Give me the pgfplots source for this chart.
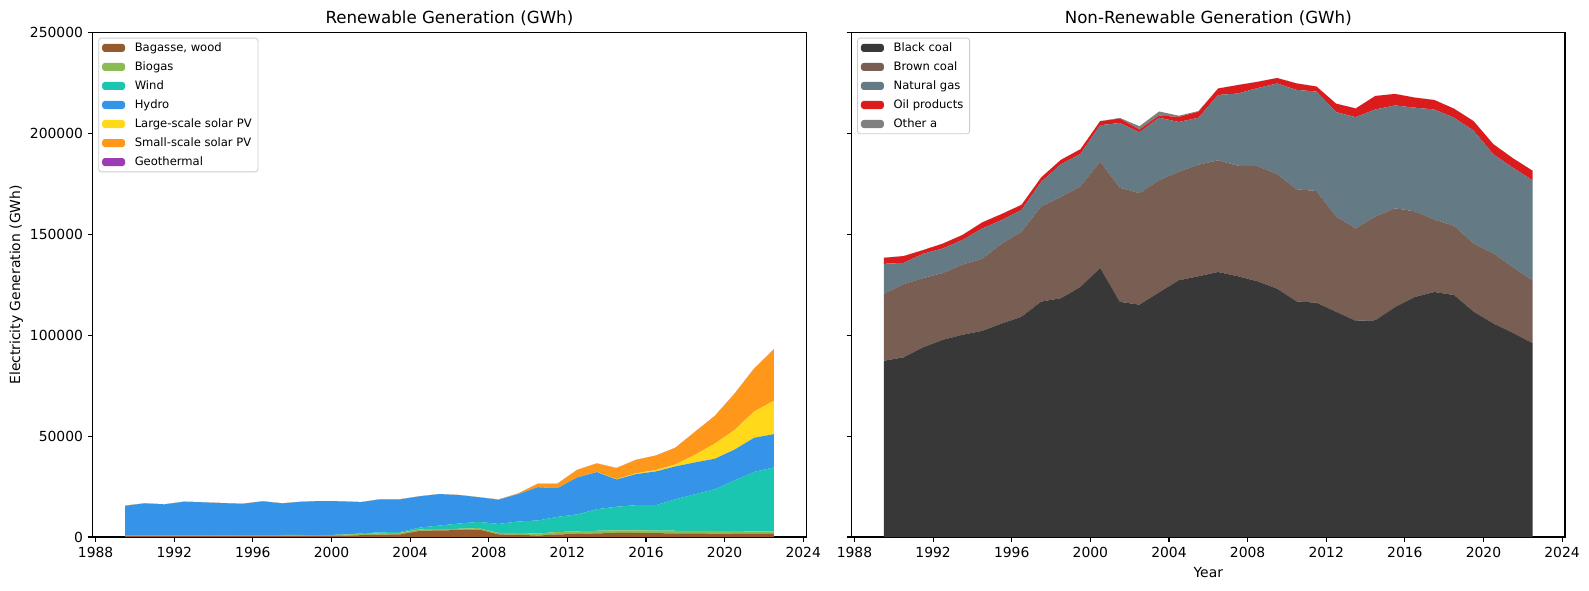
\documentclass[border=0pt]{standalone}
\usepackage{fontspec}
\setmainfont{DejaVu Sans}
\usepackage{pgfplots}
\pgfplotsset{compat=1.18}
\usepackage{pgfplotstable}

\definecolor{bag}{RGB}{150,90,45}
\definecolor{bio}{RGB}{139,187,85}
\definecolor{wind}{RGB}{26,198,176}
\definecolor{hydro}{RGB}{53,148,232}
\definecolor{lsolar}{RGB}{255,217,26}
\definecolor{ssolar}{RGB}{255,152,26}
\definecolor{geo}{RGB}{156,60,180}
\definecolor{bcoal}{RGB}{56,56,56}
\definecolor{brcoal}{RGB}{121,94,84}
\definecolor{gas}{RGB}{100,122,132}
\definecolor{oil}{RGB}{220,28,28}
\definecolor{oth}{RGB}{128,128,128}
\definecolor{legframe}{RGB}{204,204,204}

\pgfplotstableread{
x B G W H LS SS GEO
1989.5 600 100 0 14800 0 0 0
1990.5 600 100 0 16000 0 0 0
1991.5 600 100 0 15500 0 0 0
1992.5 600 100 0 16800 0 0 0
1993.5 600 100 0 16500 0 0 0
1994.5 650 150 0 16000 0 0 0
1995.5 700 200 0 15600 0 0 0
1996.5 700 200 0 16800 0 0 0
1997.5 700 300 0 15700 0 0 0
1998.5 700 300 0 16500 0 0 0
1999.5 500 400 50 16900 0 0 0
2000.5 600 500 100 16500 0 0 0
2001.5 900 600 300 15500 0 0 0
2002.5 1200 700 400 16400 0 0 0
2003.5 1300 800 400 16200 0 0 0
2004.5 3100 700 900 15500 0 0 0
2005.5 3300 700 1700 15600 0 0 0
2006.5 3400 700 2600 14100 0 0 0
2007.5 3700 700 3100 12200 0 0 0
2008.5 1300 700 4500 12000 0 100 0
2009.5 1100 900 5700 13600 0 300 0
2010.5 700 1000 6500 16500 0 1800 0
2011.5 1300 1200 7500 14200 0 2300 0
2012.5 1500 1300 8400 18300 0 3800 0
2013.5 1800 1300 10700 18400 100 4200 0
2014.5 2000 1300 11700 13500 200 5500 0
2015.5 2000 1300 12500 15400 400 6700 0
2016.5 1900 1300 12600 16700 700 7200 0
2017.5 1800 1300 15600 16300 1000 8300 0
2018.5 1800 1300 18100 15800 3800 11400 0
2019.5 1700 1300 20700 15100 7500 13700 0
2020.5 1600 1300 25100 15300 9700 18000 0
2021.5 1500 1300 29500 16900 13000 21300 0
2022.5 1500 1300 31700 16500 16500 25500 0
}\ren

\pgfplotstableread{
x BC BR NG OIL OTH
1989.5 87400 33170 14880 3010 0
1990.5 89100 36300 10550 3350 0
1991.5 94100 34300 12070 1830 0
1992.5 97800 33100 12200 2400 0
1993.5 100300 34800 12200 2500 0
1994.5 102200 35800 15000 3000 0
1995.5 105900 39600 11700 3000 0
1996.5 109200 42100 10900 2500 0
1997.5 116750 47150 12200 2200 0
1998.5 118400 50200 16200 2200 0
1999.5 124000 49900 16100 2300 0
2000.5 133400 52700 18100 2000 0
2001.5 116600 56600 32100 2200 300
2002.5 115200 55300 30200 1300 1700
2003.5 121300 55600 31000 1100 2000
2004.5 127300 53800 24700 2500 600
2005.5 129300 55300 23300 3000 300
2006.5 131400 55400 32400 3200 0
2007.5 129300 54800 35800 4200 0
2008.5 126800 57100 38700 3100 0
2009.5 123100 56800 45000 2700 0
2010.5 116800 55600 49300 3200 0
2011.5 116200 55400 49300 2500 0
2012.5 111700 47200 51800 4200 0
2013.5 107200 45800 55200 4300 0
2014.5 107500 51400 53100 6700 0
2015.5 114000 49000 51000 5700 0
2016.5 119000 42500 51400 5000 0
2017.5 121500 35900 54600 4700 0
2018.5 120000 34300 53600 4500 0
2019.5 111700 33800 56000 4700 0
2020.5 105900 34700 49200 5000 0
2021.5 101200 32600 49300 4700 0
2022.5 96100 31000 49800 4700 0
}\nonren

\pgfplotsset{
  mybase/.style={
    scale only axis,
    width=513.7bp, height=363.0bp,
    xmin=1987.85, xmax=2024.15,
    ymin=0, ymax=250000,
    xtick={1988,1992,...,2024},
    ytick={0,50000,...,250000},
    scaled y ticks=false, scaled x ticks=false,
    tick pos=left,
    tick align=outside,
    major tick length=3.5bp,
    every tick/.style={black, line width=0.8bp},
    axis line style={line width=0.8bp},
    /pgf/number format/.cd, 1000 sep={}, fixed, assume math mode=true,
    /pgfplots/.cd,
    ticklabel style={font=\fontsize{10bp}{12bp}\selectfont},
    every axis title/.style={at={(0.5,1)}, anchor=center, yshift=10.5bp, font=\fontsize{12bp}{14bp}\selectfont},
    label style={font=\fontsize{10bp}{12bp}\selectfont},
    stack plots=y,
    legend style={at={(0,1)}, anchor=north west, xshift=4bp, yshift=-3.5bp,
      draw=legframe, line width=0.6bp, rounded corners=2bp, fill=white, fill opacity=0.8, text opacity=1,
      font=\fontsize{8.33bp}{10bp}\selectfont,
      inner xsep=2.5bp, inner ysep=2.5bp, row sep=4.6bp,
      nodes={inner ysep=0.5bp, text height=6.3bp, text depth=1.8bp}},
    legend cell align=left,
    legend image code/.code={\fill[##1, fill opacity=1] (0bp,-2.9bp) rectangle (16.5bp,2.9bp); \path (21.5bp,0bp);},
  }
}

\begin{document}
\begin{tikzpicture}[x=1bp,y=1bp]
\useasboundingbox (0,0) rectangle (1144.08,424.8);
\begin{axis}[mybase, at={(66.74bp,38.16bp)}, anchor=south west,
  title={Renewable Generation (GWh)},
  ylabel={Electricity Generation (GWh)},
  ylabel style={at={(axis description cs:-0.1072,0.5)}, anchor=center, rotate=0},
]
\addplot[fill=bag, draw=none] table[x=x,y=B] {\ren} \closedcycle;
\addlegendentry{Bagasse, wood}
\addplot[fill=bio, draw=none] table[x=x,y=G] {\ren} \closedcycle;
\addlegendentry{Biogas}
\addplot[fill=wind, draw=none] table[x=x,y=W] {\ren} \closedcycle;
\addlegendentry{Wind}
\addplot[fill=hydro, draw=none] table[x=x,y=H] {\ren} \closedcycle;
\addlegendentry{Hydro}
\addplot[fill=lsolar, draw=none] table[x=x,y=LS] {\ren} \closedcycle;
\addlegendentry{Large-scale solar PV}
\addplot[fill=ssolar, draw=none] table[x=x,y=SS] {\ren} \closedcycle;
\addlegendentry{Small-scale solar PV}
\addplot[fill=geo, draw=none] table[x=x,y=GEO] {\ren} \closedcycle;
\addlegendentry{Geothermal}
\end{axis}

\begin{axis}[mybase, at={(613.1bp,38.16bp)}, anchor=south west,
  title={Non-Renewable Generation (GWh)},
  yticklabels={},
  xlabel={Year},
  xlabel style={at={(axis description cs:0.5,-0.0706)}, anchor=center},
]
\addplot[fill=bcoal, draw=none] table[x=x,y=BC] {\nonren} \closedcycle;
\addlegendentry{Black coal}
\addplot[fill=brcoal, draw=none] table[x=x,y=BR] {\nonren} \closedcycle;
\addlegendentry{Brown coal}
\addplot[fill=gas, draw=none] table[x=x,y=NG] {\nonren} \closedcycle;
\addlegendentry{Natural gas}
\addplot[fill=oil, draw=none] table[x=x,y=OIL] {\nonren} \closedcycle;
\addlegendentry{Oil products}
\addplot[fill=oth, draw=none] table[x=x,y=OTH] {\nonren} \closedcycle;
\addlegendentry{Other a}
\end{axis}
\end{tikzpicture}
\end{document}
